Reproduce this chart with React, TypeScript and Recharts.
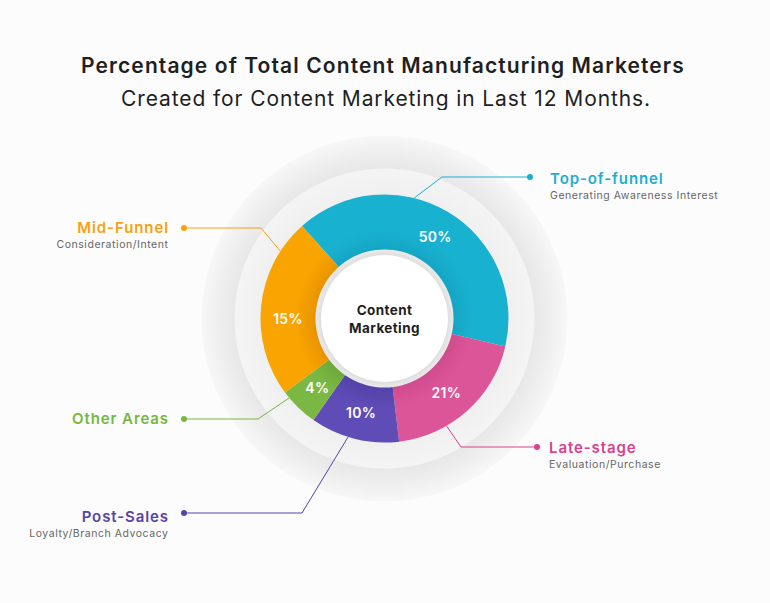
import React from 'react';
import { PieChart, Pie, Cell } from 'recharts';

// ---- data ----
const categories = ['Top-of-funnel', 'Late-stage', 'Post-Sales', 'Other Areas', 'Mid-Funnel'];
const subtitles = ['Generating Awareness Interest', 'Evaluation/Purchase', 'Loyalty/Branch Advocacy', '', 'Consideration/Intent'];
const percentLabels = [50, 21, 10, 4, 15];
// arc sizes as drawn in the reference infographic (share of the ring)
const arcShares = [40.2, 19.5, 11.6, 5.1, 23.6];
const titleLines = ['Percentage of Total Content Manufacturing Marketers', 'Created for Content Marketing in Last 12 Months.'];
const centerLines = ['Content', 'Marketing'];

// ---- styles / layout ----
const FONT = 'Inter, "Noto Sans", sans-serif';
const colors = ['#19b1d0', '#dc5599', '#5f4cb6', '#7ab843', '#f9a400'];
const innerShade = ['#14a6c4', '#d04c8e', '#5342a8', '#6ea93b', '#e89400'];
const textColors = ['#1aafd0', '#d9418f', '#5743aa', '#74b842', '#f9a10f'];
const CX = 384.5;
const CY = 318.5;
const RING_IN = 69;
const RING_OUT = 124;
const RAD = Math.PI / 180;

const annotations = [
  { anchor: 76.2, elbow: [442, 177], dot: [530, 177], side: 'right', tx: 550, ty: 184, labelShift: -1 },
  { anchor: -60, elbow: [461, 447], dot: [537, 447], side: 'right', tx: 549, ty: 453, labelShift: -2 },
  { anchor: 252.9, elbow: [302, 513], dot: [184, 513], side: 'left', tx: 168, ty: 522, labelShift: 0 },
  { anchor: 219.8, elbow: [258, 419], dot: [184, 419], side: 'left', tx: 168, ty: 424, labelShift: 0 },
  { anchor: 147.1, elbow: [261, 228], dot: [184, 228], side: 'left', tx: 168, ty: 233, labelShift: 6 },
];

const rows = categories.map((name, i) => ({ name, share: arcShares[i], pct: percentLabels[i], sub: subtitles[i] }));
const single = [{ name: 'disc', v: 1 }];

const renderMainLabel = (props: any) => {
  const { cx, cy, midAngle, index } = props;
  const idx = typeof index === 'number' ? index : categories.indexOf(props.name);
  const a = annotations[idx];
  const r = (RING_IN + RING_OUT) / 2;
  const ang = midAngle + a.labelShift;
  const x = cx + r * Math.cos(-ang * RAD);
  const y = cy + r * Math.sin(-ang * RAD);
  const ax = cx + RING_OUT * Math.cos(-a.anchor * RAD);
  const ay = cy + RING_OUT * Math.sin(-a.anchor * RAD);
  const col = textColors[idx];
  const left = a.side === 'left';
  const anchor = left ? 'end' : 'start';
  return (
    <g>
      <text x={x} y={y} fill="#ffffff" fontFamily={FONT} fontWeight={600} fontSize={14} letterSpacing={0.3} textAnchor="middle" dominantBaseline="central">
        {percentLabels[idx]}%
      </text>
      <polyline points={`${ax},${ay} ${a.elbow[0]},${a.elbow[1]} ${a.dot[0]},${a.dot[1]}`} fill="none" stroke={col} strokeWidth={1} />
      <circle cx={a.dot[0]} cy={a.dot[1]} r={3} fill={col} />
      <text x={left ? a.tx + 1 : a.tx} y={a.ty} fill={col} fontFamily={FONT} fontWeight={600} fontSize={15} letterSpacing={0.9} textAnchor={anchor}>
        {categories[idx]}
      </text>
      {subtitles[idx] ? (
        <text x={left ? a.tx + 0.5 : a.tx} y={a.ty + 15} fill="#666666" fontFamily={FONT} fontSize={10.5} letterSpacing={0.55} textAnchor={anchor}>
          {subtitles[idx]}
        </text>
      ) : null}
    </g>
  );
};

const renderCenter = (props: any) => {
  const { cx, cy } = props;
  return (
    <g>
      <text x={cx} y={cy - 4} fill="#1e1e1e" fontFamily={FONT} fontWeight={700} fontSize={13.5} letterSpacing={0.4} textAnchor="middle">
        {centerLines[0]}
      </text>
      <text x={cx} y={cy + 14} fill="#1e1e1e" fontFamily={FONT} fontWeight={700} fontSize={13.5} letterSpacing={0.4} textAnchor="middle">
        {centerLines[1]}
      </text>
    </g>
  );
};

export default function App() {
  return (
    <div style={{ position: 'absolute', left: 0, top: 0, width: 770, height: 603, background: '#fcfcfc' }}>
      <svg width={770} height={110} style={{ position: 'absolute', left: 0, top: 0 }}>
        <text x={383} y={73} textAnchor="middle" fill="#1f1f1f" fontFamily={FONT} fontWeight={600} fontSize={21} letterSpacing={1.1}>
          {titleLines[0]}
        </text>
        <text x={386} y={106} textAnchor="middle" fill="#1f1f1f" fontFamily={FONT} fontWeight={400} fontSize={21} letterSpacing={0.9}>
          {titleLines[1]}
        </text>
      </svg>
      <div style={{ position: 'absolute', left: 0, top: 0 }}>
        <PieChart width={770} height={603} margin={{ top: 0, right: 0, bottom: 0, left: 0 }}>
          <defs>
            <radialGradient id="outerDisc" cx={CX} cy={CY} r={183} gradientUnits="userSpaceOnUse">
              <stop offset="0" stopColor="#e4e4e4" />
              <stop offset="0.8" stopColor="#e6e6e6" />
              <stop offset="0.88" stopColor="#ececec" />
              <stop offset="1" stopColor="#f7f7f7" />
            </radialGradient>
            <radialGradient id="innerDisc" cx={CX} cy={CY} r={150} gradientUnits="userSpaceOnUse">
              <stop offset="0" stopColor="#ebebeb" />
              <stop offset="0.8" stopColor="#efefef" />
              <stop offset="1" stopColor="#f4f4f4" />
            </radialGradient>
            <radialGradient id="hubRing" cx={CX} cy={CY} r={RING_IN} gradientUnits="userSpaceOnUse">
              <stop offset="0.88" stopColor="#d8d8d8" />
              <stop offset="1" stopColor="#ebebeb" />
            </radialGradient>
            {colors.map((c, i) => (
              <radialGradient key={i} id={`seg${i}`} cx={CX} cy={CY} r={RING_OUT} gradientUnits="userSpaceOnUse">
                <stop offset={RING_IN / RING_OUT} stopColor={innerShade[i]} />
                <stop offset="0.72" stopColor={c} />
                <stop offset="1" stopColor={c} />
              </radialGradient>
            ))}
          </defs>
          <Pie data={single} dataKey="v" cx={CX} cy={CY} innerRadius={0} outerRadius={183} fill="url(#outerDisc)" stroke="none" isAnimationActive={false} />
          <Pie data={single} dataKey="v" cx={CX} cy={CY} innerRadius={0} outerRadius={150} fill="url(#innerDisc)" stroke="none" isAnimationActive={false} />
          <Pie
            data={rows}
            dataKey="share"
            nameKey="name"
            cx={CX}
            cy={CY}
            innerRadius={RING_IN - 2}
            outerRadius={RING_OUT}
            startAngle={131.7}
            endAngle={-228.3}
            stroke="none"
            label={renderMainLabel}
            labelLine={false}
            isAnimationActive={false}
          >
            {rows.map((r, i) => (
              <Cell key={r.name} fill={`url(#seg${i})`} />
            ))}
          </Pie>
          <Pie data={single} dataKey="v" cx={CX} cy={CY} innerRadius={0} outerRadius={RING_IN} fill="url(#hubRing)" stroke="none" isAnimationActive={false} />
          <Pie data={single} dataKey="v" cx={CX} cy={CY} innerRadius={0} outerRadius={63.5} fill="#ffffff" stroke="none" label={renderCenter} labelLine={false} isAnimationActive={false} />
        </PieChart>
      </div>
    </div>
  );
}
